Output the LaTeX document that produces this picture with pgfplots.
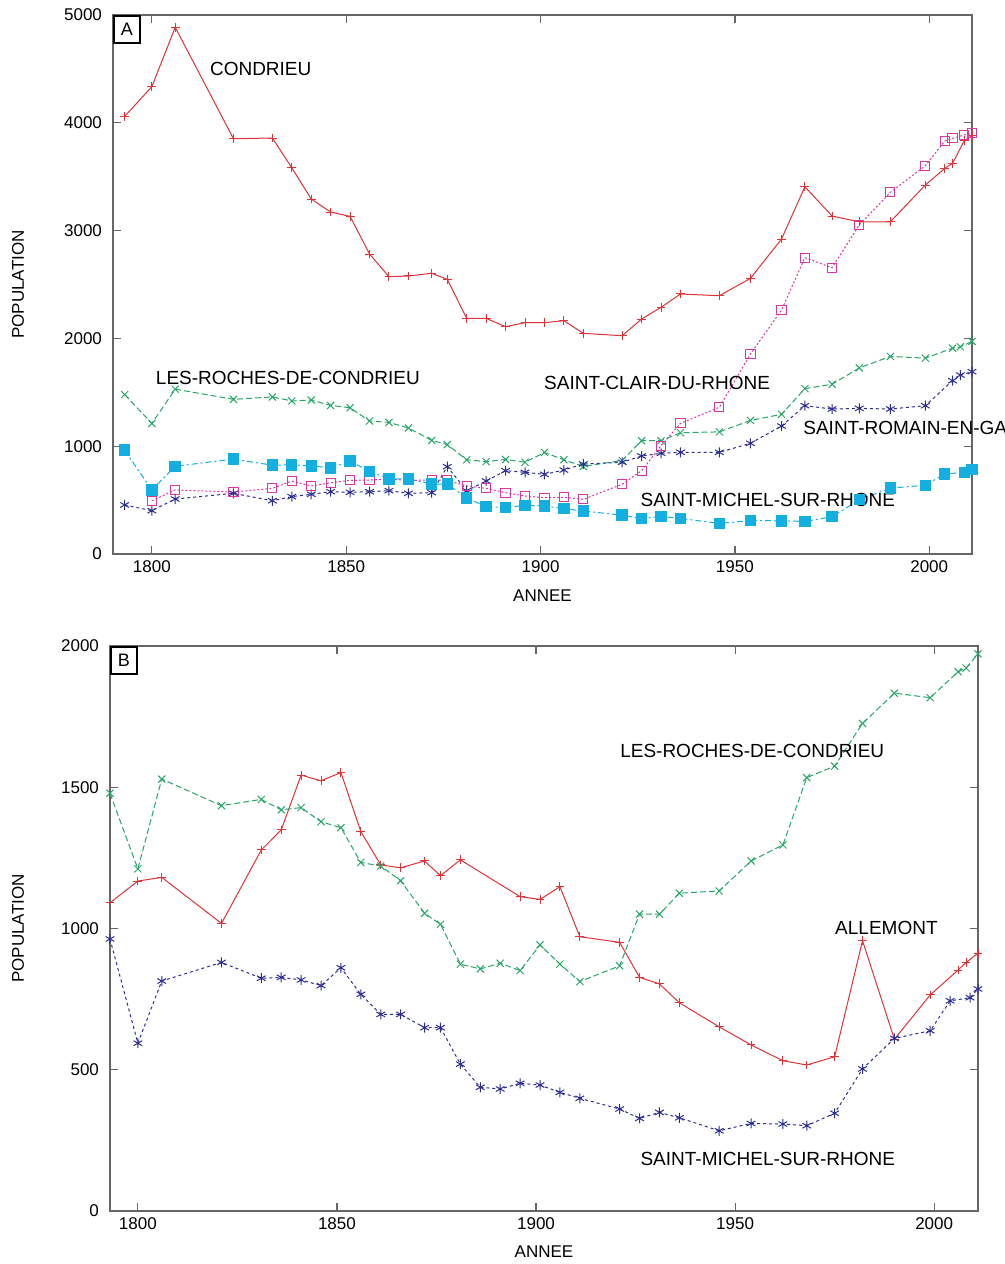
\documentclass[border=0pt]{standalone}
\usepackage{fontspec}
\setmainfont{Liberation Sans}
\usepackage{pgfplots}
\pgfplotsset{compat=1.18}

\definecolor{cRed}{RGB}{225,50,55}
\definecolor{cGreen}{RGB}{40,165,105}
\definecolor{cNavy}{RGB}{45,45,150}
\definecolor{cMag}{RGB}{220,55,160}
\definecolor{cCyan}{RGB}{20,175,225}

\tikzset{lab/.style={font=\fontsize{9.5}{11}\selectfont, anchor=center}}

\pgfplotsset{
  popstyle/.style={
    scale only axis,
    anchor=south west,
    clip=false,
    axis line style={draw=black!60, line width=0.6pt},
    every tick/.style={black!60, line width=0.6pt},
    major tick length=4pt,
    tick align=inside,
    xtick={1800,1850,1900,1950,2000},
    xmax=2011,
    ymin=0,
    scaled ticks=false,
    /pgf/number format/1000 sep={},
    /pgf/number format/assume math mode=true,
    tick label style={font=\fontsize{8.5}{10}\selectfont},
    yticklabel style={xshift=-2pt},
    label style={font=\fontsize{8.5}{10}\selectfont},
    xlabel={ANNEE},
    ylabel={POPULATION},
    xlabel style={at={(axis description cs:0.5,0)}, anchor=center, yshift=-21pt},
    ylabel style={at={(axis description cs:0,0.5)}, anchor=center},
  },
}

\begin{document}
\begin{tikzpicture}
\useasboundingbox (0,0) rectangle (502.5pt,-632pt);

% ---------------- panel A
\begin{axis}[popstyle,
  at={(56.5pt,-277pt)},
  width=429.5pt, height=269.5pt,
  xmin=1790,
  ymax=5000,
  ytick={0,1000,2000,3000,4000,5000},
  ylabel style={yshift=47.5pt},
]
% CONDRIEU
\addplot[cRed, line width=0.5pt, mark=+, mark size=2.2pt, mark options={solid}] coordinates {
(1793,4060)(1800,4335)(1806,4886)(1821,3852)(1831,3859)(1836,3583)(1841,3293)(1846,3172)
(1851,3132)(1856,2783)(1861,2572)(1866,2579)(1872,2604)(1876,2548)(1881,2186)(1886,2186)
(1891,2109)(1896,2146)(1901,2146)(1906,2164)(1911,2047)(1921,2025)(1926,2180)(1931,2288)
(1936,2412)(1946,2396)(1954,2557)(1962,2922)(1968,3407)(1975,3135)(1982,3082)(1990,3082)
(1999,3423)(2004,3578)(2006,3624)(2009,3834)(2011,3880)};
% LES-ROCHES-DE-CONDRIEU
\addplot[cGreen, line width=0.5pt, dash pattern=on 3pt off 1.5pt, mark=x, mark size=2.5pt, mark options={solid}] coordinates {
(1793,1479)(1800,1211)(1806,1529)(1821,1435)(1831,1457)(1836,1420)(1841,1428)(1846,1378)
(1851,1357)(1856,1234)(1861,1221)(1866,1169)(1872,1054)(1876,1015)(1881,874)(1886,857)
(1891,877)(1896,851)(1901,942)(1906,874)(1911,812)(1921,868)(1926,1051)(1931,1051)
(1936,1125)(1946,1133)(1954,1239)(1962,1296)(1968,1534)(1975,1575)(1982,1726)(1990,1833)
(1999,1817)(2006,1909)(2008,1922)(2011,1972)};
% SAINT-ROMAIN-EN-GAL
\addplot[cNavy, line width=0.5pt, dash pattern=on 1.5pt off 1.5pt, mark=asterisk, mark size=2.5pt, mark options={solid}] coordinates {
(1793,455)(1800,402)(1806,510)(1821,563)(1831,494)(1836,532)(1841,554)(1846,578)
(1851,572)(1856,578)(1861,587)(1866,563)(1872,569)(1876,810)(1881,587)(1886,677)
(1891,773)(1896,758)(1901,739)(1906,779)(1911,835)(1921,851)(1926,909)(1931,934)
(1936,943)(1946,943)(1954,1027)(1962,1187)(1968,1376)(1975,1345)(1982,1351)(1990,1345)
(1999,1376)(2006,1608)(2008,1660)(2011,1691)};
% SAINT-CLAIR-DU-RHONE
\addplot[cMag, line width=0.5pt, dash pattern=on 1pt off 1pt, mark=square, mark size=2.3pt, mark options={solid}] coordinates {
(1800,494)(1806,594)(1821,575)(1831,609)(1836,677)(1841,631)(1846,661)(1851,683)
(1856,686)(1861,696)(1866,683)(1872,686)(1876,683)(1881,631)(1886,609)(1891,569)
(1896,538)(1901,522)(1906,526)(1911,507)(1921,647)(1926,773)(1931,1005)(1936,1212)
(1946,1361)(1954,1855)(1962,2263)(1968,2749)(1975,2656)(1982,3052)(1990,3355)(1999,3602)
(2004,3831)(2006,3856)(2009,3887)(2011,3902)};
% SAINT-MICHEL-SUR-RHONE
\addplot[cCyan, line width=0.5pt, dash pattern=on 3pt off 1.5pt on 1pt off 1.5pt, mark=square*, mark size=2.6pt, mark options={solid}] coordinates {
(1793,963)(1800,594)(1806,814)(1821,880)(1831,824)(1836,827)(1841,818)(1846,798)
(1851,861)(1856,767)(1861,696)(1866,696)(1872,649)(1876,649)(1881,520)(1886,438)
(1891,432)(1896,452)(1901,446)(1906,420)(1911,399)(1921,361)(1926,328)(1931,349)
(1936,330)(1946,284)(1954,310)(1962,308)(1968,302)(1975,346)(1982,503)(1990,611)
(1999,638)(2004,744)(2009,755)(2011,786)};

\node[lab] at (axis cs:1828,4500) {CONDRIEU};
\node[lab] at (axis cs:1835,1633) {LES-ROCHES-DE-CONDRIEU};
\node[lab] at (axis cs:1930,1586) {SAINT-CLAIR-DU-RHONE};
\node[lab, anchor=west] at (axis cs:1965.8,1169) {SAINT-ROMAIN-EN-GA};
\node[lab] at (axis cs:1958.5,501) {SAINT-MICHEL-SUR-RHONE};
\node[draw, line width=0.8pt, anchor=north west, minimum width=13pt, minimum height=13.5pt, inner sep=0pt,
      font=\fontsize{9}{10}\selectfont] at (rel axis cs:0,1) {A};
\end{axis}

% ---------------- panel B
\begin{axis}[popstyle,
  at={(55pt,-605.5pt)},
  width=434pt, height=282.5pt,
  xmin=1793,
  ymax=2000,
  ytick={0,500,1000,1500,2000},
  ylabel style={yshift=46pt},
  xlabel style={yshift=0.5pt},
]
% ALLEMONT
\addplot[cRed, line width=0.5pt, mark=+, mark size=2.2pt, mark options={solid}] coordinates {
(1793,1091)(1800,1168)(1806,1181)(1821,1018)(1831,1278)(1836,1349)(1841,1543)(1846,1523)
(1851,1552)(1856,1343)(1861,1225)(1866,1215)(1872,1239)(1876,1187)(1881,1243)(1896,1113)
(1901,1103)(1906,1148)(1911,971)(1921,951)(1926,827)(1931,804)(1936,737)(1946,652)
(1954,588)(1962,532)(1968,517)(1975,546)(1982,957)(1990,608)(1999,765)(2006,853)
(2008,880)(2011,912)};
% LES-ROCHES-DE-CONDRIEU
\addplot[cGreen, line width=0.5pt, dash pattern=on 3pt off 1.5pt, mark=x, mark size=2.5pt, mark options={solid}] coordinates {
(1793,1479)(1800,1211)(1806,1529)(1821,1435)(1831,1457)(1836,1420)(1841,1428)(1846,1378)
(1851,1357)(1856,1234)(1861,1221)(1866,1169)(1872,1054)(1876,1015)(1881,874)(1886,857)
(1891,877)(1896,851)(1901,942)(1906,874)(1911,812)(1921,868)(1926,1051)(1931,1051)
(1936,1125)(1946,1133)(1954,1239)(1962,1296)(1968,1534)(1975,1575)(1982,1726)(1990,1833)
(1999,1817)(2006,1909)(2008,1922)(2011,1972)};
% SAINT-MICHEL-SUR-RHONE
\addplot[cNavy, line width=0.5pt, dash pattern=on 1.5pt off 1.5pt, mark=asterisk, mark size=2.5pt, mark options={solid}] coordinates {
(1793,963)(1800,594)(1806,814)(1821,880)(1831,824)(1836,827)(1841,818)(1846,798)
(1851,861)(1856,767)(1861,696)(1866,696)(1872,649)(1876,649)(1881,520)(1886,438)
(1891,432)(1896,452)(1901,446)(1906,420)(1911,399)(1921,361)(1926,328)(1931,349)
(1936,330)(1946,284)(1954,310)(1962,308)(1968,302)(1975,346)(1982,503)(1990,611)
(1999,638)(2004,744)(2009,755)(2011,786)};

\node[lab] at (axis cs:1954.3,1629) {LES-ROCHES-DE-CONDRIEU};
\node[lab] at (axis cs:1988,1003) {ALLEMONT};
\node[lab] at (axis cs:1958.2,183) {SAINT-MICHEL-SUR-RHONE};
\node[draw, line width=0.8pt, anchor=north west, minimum width=13pt, minimum height=13.5pt, inner sep=0pt,
      font=\fontsize{9}{10}\selectfont] at (rel axis cs:0,1) {B};
\end{axis}
\end{tikzpicture}
\end{document}
